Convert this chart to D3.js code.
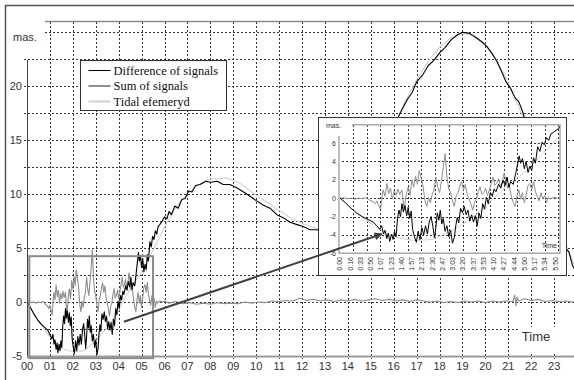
<!DOCTYPE html>
<html>
<head>
<meta charset="utf-8">
<script src="https://cdn.jsdelivr.net/npm/d3@7"></script>
<style>
  body { margin: 0; background: #fff; }
  svg { display: block; font-family: "Liberation Sans", Arial, sans-serif; }
</style>
</head>
<body>
<script>
var width = 574;
var height = 380;

// series names / colours (legend order)
var seriesNames = ['Difference of signals', 'Sum of signals', 'Tidal efemeryd'];
var seriesColors = ['#000000', '#8e8e8e', '#d0d0d0'];

// tick labels
var hourLabels = ['00','01','02','03','04','05','06','07','08','09','10','11',
                  '12','13','14','15','16','17','18','19','20','21','22','23'];
var yTickValues = [-5, 0, 5, 10, 15, 20];
var insetYTicks = [-6, -4, -2, 0, 2, 4, 6];
var insetTimeLabels = ['0:00','0:16','0:33','0:50','1:07','1:23','1:40','1:57','2:13','2:30','2:47',
                       '3:03','3:20','3:37','3:53','4:10','4:27','4:44','5:00','5:17','5:34','5:50'];

// [hour, mas]
var diffSeries = [
  [0,0],[0.15,-0.5],[0.3,-1.1],[0.45,-1.6],[0.6,-2.0],[0.75,-2.3],[0.9,-2.6],[1.0,-3.0],
  [1.08,-3.4],[1.13,-3.0],[1.18,-3.9],[1.22,-3.5],[1.27,-4.4],[1.31,-3.8],[1.35,-4.7],[1.4,-3.9],
  [1.44,-4.5],[1.48,-3.6],[1.52,-4.2],[1.56,-2.2],[1.6,-1.3],[1.64,-2.0],[1.68,-0.6],[1.72,-1.5],
  [1.76,-0.8],[1.81,-1.9],[1.85,-1.0],[1.89,-2.2],[1.93,-1.4],[1.97,-3.4],[2.02,-4.2],[2.07,-4.8],
  [2.12,-3.6],[2.17,-4.5],[2.22,-3.2],[2.27,-4.0],[2.32,-3.0],[2.37,-3.9],[2.42,-2.6],[2.47,-2.0],
  [2.52,-3.1],[2.56,-4.3],[2.6,-3.2],[2.64,-1.6],[2.68,-2.4],[2.72,-1.3],[2.76,-2.8],[2.8,-2.2],
  [2.85,-3.6],[2.9,-3.0],[2.95,-4.2],[3.0,-3.5],[3.05,-4.9],[3.1,-4.3],[3.14,-3.0],[3.18,-2.1],
  [3.22,-2.7],[3.27,-1.1],[3.32,-1.6],[3.37,-0.9],[3.42,-1.8],[3.47,-1.3],[3.52,-2.5],[3.57,-1.8],
  [3.62,-2.6],[3.67,-1.9],[3.72,-3.0],[3.77,-1.6],[3.82,-2.2],[3.87,-0.6],[3.92,-1.2],[3.97,0.1],
  [4.02,-0.6],[4.08,0.6],[4.13,0.2],[4.18,1.0],[4.23,0.7],[4.3,1.5],[4.36,1.1],[4.42,1.9],
  [4.48,1.4],[4.53,2.3],[4.58,1.2],[4.63,1.8],[4.7,1.5],[4.76,2.6],[4.81,3.6],[4.86,4.6],
  [4.9,3.8],[4.95,4.3],[5.0,3.2],[5.05,4.0],[5.1,2.8],[5.15,3.5],[5.2,3.0],[5.25,4.4],
  [5.3,3.8],[5.36,5.6],[5.42,5.1],[5.48,6.1],[5.54,5.8],[5.6,6.6],[5.66,6.3],[5.72,7.0],
  [5.8,7.2],[5.9,7.5],[6.0,7.9],[6.1,7.7],[6.2,8.4],[6.3,8.1],[6.45,8.9],[6.6,8.7],[6.75,9.5],
  [6.9,9.6],[7.05,10.3],[7.2,10.2],[7.35,10.8],[7.55,10.9],[7.8,11.2],[8.0,11.1],[8.3,11.2],
  [8.56,10.9],[8.85,10.9],[9.15,10.6],[9.45,10.2],[9.73,9.8],[10.0,9.4],[10.3,9.0],[10.6,8.7],
  [10.9,8.1],[11.2,7.8],[11.47,7.4],[11.75,7.2],[12.05,7.0],[12.35,6.7],[12.64,6.7],[13.0,6.5],
  [13.5,6.7],[14.0,7.6],[14.5,9.2],[15.0,11.3],[15.5,13.7],[16.0,16.2],[16.3,17.6],[16.6,18.8],
  [16.8,19.4],[17.0,20.4],[17.25,21.0],[17.5,21.9],[17.75,22.4],[18.0,23.1],[18.25,23.6],
  [18.5,24.3],[18.8,24.8],[19.0,25.0],[19.3,24.9],[19.6,24.5],[19.85,24.1],[20.06,23.7],
  [20.3,23.0],[20.5,22.3],[20.7,21.4],[20.9,20.4],[21.1,19.8],[21.3,18.9],[21.45,18.6],
  [21.6,17.8],[22.0,15.0],[22.5,11.5],[23.0,8.2],[23.5,5.0],[23.65,4.6],[23.8,3.4],[24.0,2.6]
];

var sumSeries = [
  [0,0],[0.1,0.05],[0.2,-0.05],[0.3,0],[0.4,-0.1],[0.5,0],[0.6,-0.05],[0.7,0.05],[0.8,-0.2],
  [0.9,-0.4],[0.95,-0.6],[1.0,-0.3],[1.05,-0.8],[1.1,-1.2],[1.13,-0.2],[1.17,0.9],[1.22,0.2],
  [1.27,1.6],[1.32,0.5],[1.37,1.1],[1.42,-0.1],[1.47,0.8],[1.52,0.3],[1.57,1.0],[1.62,0.4],
  [1.68,0.9],[1.74,-1.3],[1.8,0.5],[1.85,1.2],[1.9,0.3],[1.95,2.0],[2.0,1.2],[2.05,2.4],
  [2.1,1.5],[2.15,3.0],[2.2,2.2],[2.25,1.4],[2.3,-0.2],[2.35,-0.9],[2.4,0.1],[2.45,-0.5],
  [2.5,0.4],[2.55,0.9],[2.6,2.3],[2.65,1.2],[2.7,0.6],[2.75,1.9],[2.8,3.3],[2.85,4.85],
  [2.9,2.3],[2.95,1.0],[3.0,0.6],[3.05,-0.3],[3.1,-0.9],[3.15,0.2],[3.2,0.6],[3.25,1.3],
  [3.3,1.8],[3.35,0.9],[3.4,1.5],[3.45,0.4],[3.5,-0.1],[3.55,-0.6],[3.6,-1.3],[3.65,-0.4],
  [3.7,-0.1],[3.75,0.7],[3.8,1.25],[3.85,0.4],[3.9,0.6],[3.95,1.1],[4.0,0.3],[4.05,0.9],
  [4.1,1.6],[4.15,2.3],[4.2,1.4],[4.25,1.6],[4.3,2.1],[4.35,1.2],[4.4,1.8],[4.45,2.7],
  [4.5,1.9],[4.55,1.1],[4.6,1.25],[4.65,0.2],[4.7,-0.5],[4.75,-0.9],[4.8,0.2],[4.85,0.9],
  [4.9,-0.1],[4.95,0.6],[5.0,-0.5],[5.05,0.4],[5.1,1.4],[5.15,1.6],[5.2,0.9],[5.25,1.8],
  [5.3,0.7],[5.35,0.2],[5.4,-0.3],[5.45,0.6],[5.5,-0.1],[5.55,0.3],[5.6,-0.5],[5.65,0.1],
  [5.7,-0.1],[5.8,0.1],[5.9,0],[6.0,0.1],[6.2,-0.1],[6.5,0.05],[6.8,-0.15],[7.1,-0.05],
  [7.4,-0.2],[7.7,-0.1],[8.0,-0.2],[8.3,-0.05],[8.6,-0.15],[8.9,-0.1],[9.2,-0.15],[9.5,0],
  [9.8,-0.1],[10.1,0],[10.4,-0.05],[10.7,0.1],[11.0,0.05],[11.3,0.15],[11.6,0.1],[11.9,0.35],
  [12.2,0.15],[12.5,0.25],[12.8,0.1],[13.1,0.2],[13.4,0.05],[13.7,0.2],[14.0,0.1],[14.3,0.25],
  [14.6,0.1],[14.9,0.2],[15.2,0.3],[15.5,0.15],[15.8,0.25],[16.1,0.1],[16.4,0.2],[16.7,0.05],
  [17.0,0.2],[17.3,0.1],[17.6,0],[17.9,0.1],[18.2,-0.05],[18.5,0.05],[18.8,-0.05],[19.1,0.1],
  [19.4,0],[19.7,0.1],[20.0,-0.05],[20.3,0.1],[20.6,0],[20.9,0.1],[21.2,0.05],[21.28,0.65],
  [21.33,-0.35],[21.38,0.45],[21.45,0.1],[21.7,0.3],[22.0,0.15],[22.3,0.25],[22.6,0.05],
  [22.9,0.15],[23.2,0.05],[23.5,0.1],[23.8,0],[24.0,0.05]
];

var tidalSeries = [
  [0,0],[0.5,-1.8],[1,-3.2],[1.5,-4.3],[2,-4.6],[2.5,-4.5],[3,-3.6],[3.5,-2.4],[4,-0.8],
  [4.17,0],[4.5,1.2],[5,2.8],[5.5,4.8],[5.92,6.6],[6.5,8.8],[7,10.0],[7.5,10.9],[8,11.4],
  [8.7,11.5],[9.3,11.0],[10,9.9],[10.5,9.2],[11,8.5],[11.5,7.8],[12,7.3],[12.5,6.9],[13,6.7],
  [13.5,6.9],[14,7.8],[14.5,9.4],[15,11.5],[15.5,13.9],[16,16.3],[16.5,18.6],[17,20.6],
  [17.5,22.3],[18,23.6],[18.5,24.5],[19,24.9],[19.5,24.7],[20,23.9],[20.5,22.4],[21,20.3],
  [21.5,17.9],[22,15.1],[22.5,11.9],[23,8.7],[23.5,5.4],[24,2.8]
];

var allSeries = [diffSeries, sumSeries, tidalSeries];

var svg = d3.select('body').append('svg')
  .attr('width', width)
  .attr('height', height);

svg.append('rect').attr('width', width).attr('height', height).attr('fill', '#fff');

// ---------- main chart ----------
var x = d3.scaleLinear().domain([0, 24]).range([27, 27 + 24 * 22.92]);
var y = d3.scaleLinear().domain([-5, 25]).range([356, 32.3]);

// outer frame
svg.append('path')
  .attr('d', 'M5.5,' + height + 'V5.5H' + width)
  .attr('fill', 'none')
  .attr('stroke', '#555')
  .attr('stroke-width', 1.5);

// top border of plot
svg.append('line')
  .attr('x1', 45).attr('x2', width)
  .attr('y1', 21.5).attr('y2', 21.5)
  .attr('stroke', '#8a8a8a').attr('stroke-width', 1.5);

// horizontal grid
var gridVals = d3.range(-2.5, 25.1, 2.5);
svg.append('g').selectAll('line')
  .data(gridVals)
  .enter().append('line')
  .attr('x1', (d) => d >= 25 ? 45 : 24)
  .attr('x2', width)
  .attr('y1', (d) => Math.round(y(d)) + 0.5)
  .attr('y2', (d) => Math.round(y(d)) + 0.5)
  .attr('stroke', '#333')
  .attr('stroke-dasharray', '2,2');

// vertical grid
svg.append('g').selectAll('line')
  .data(d3.range(1, 25))
  .enter().append('line')
  .attr('x1', (d) => Math.round(x(d)) + 0.5)
  .attr('x2', (d) => Math.round(x(d)) + 0.5)
  .attr('y1', 22)
  .attr('y2', 359)
  .attr('stroke', '#333')
  .attr('stroke-dasharray', '2,2');

// y axis line
svg.append('line')
  .attr('x1', 27.5).attr('x2', 27.5)
  .attr('y1', 60).attr('y2', 358)
  .attr('stroke', '#444').attr('stroke-width', 1);

// y tick labels
svg.append('g').selectAll('text')
  .data(yTickValues)
  .enter().append('text')
  .attr('x', 22)
  .attr('y', (d) => y(d))
  .attr('dy', '0.35em')
  .attr('text-anchor', 'end')
  .attr('font-size', 11)
  .attr('fill', '#333')
  .text((d) => d);

svg.append('text')
  .attr('x', 13).attr('y', 41)
  .attr('font-size', 11)
  .attr('fill', '#333')
  .text('mas.');

// data lines
svg.append('clipPath').attr('id', 'mainclip')
  .append('rect').attr('x', 27).attr('y', 22).attr('width', width - 27).attr('height', 336);

var line = d3.line().x((d) => x(d[0])).y((d) => y(d[1]));
var linesG = svg.append('g').attr('clip-path', 'url(#mainclip)');
[2, 1, 0].forEach(function(i) {
  linesG.append('path')
    .datum(allSeries[i])
    .attr('d', line)
    .attr('fill', 'none')
    .attr('stroke', seriesColors[i])
    .attr('stroke-width', i === 0 ? 1.1 : 1.1)
    .attr('stroke-linejoin', 'round');
});

// x axis
svg.append('line')
  .attr('x1', 27).attr('x2', width)
  .attr('y1', 356.5).attr('y2', 356.5)
  .attr('stroke', '#999').attr('stroke-width', 2);

svg.append('g').selectAll('text')
  .data(hourLabels)
  .enter().append('text')
  .attr('x', (d, i) => x(i))
  .attr('y', 370)
  .attr('text-anchor', 'middle')
  .attr('font-size', 11)
  .attr('fill', '#333')
  .text((d) => d);

// "Time" label with white background
svg.append('rect')
  .attr('x', 518).attr('y', 327).attr('width', width - 518).attr('height', 25)
  .attr('fill', '#fff');
svg.append('text')
  .attr('x', 536).attr('y', 341)
  .attr('text-anchor', 'middle')
  .attr('font-size', 13)
  .attr('fill', '#333')
  .text('Time');

// zoom box
var zoomHours = [0.1, 5.5];
var zoomMas = [-5.2, 4.25];
svg.append('rect')
  .attr('x', x(zoomHours[0]))
  .attr('y', y(zoomMas[1]))
  .attr('width', x(zoomHours[1]) - x(zoomHours[0]))
  .attr('height', y(zoomMas[0]) - y(zoomMas[1]))
  .attr('fill', 'none')
  .attr('stroke', '#8a8a8a')
  .attr('stroke-width', 2);

// legend
var legend = svg.append('g').attr('transform', 'translate(80.5, 60.5)');
legend.append('rect')
  .attr('width', 146).attr('height', 50)
  .attr('fill', '#fff').attr('stroke', '#333');
seriesNames.forEach(function(name, i) {
  var ly = 10 + i * 15.5;
  legend.append('line')
    .attr('x1', 8).attr('x2', 30)
    .attr('y1', ly).attr('y2', ly)
    .attr('stroke', seriesColors[i])
    .attr('stroke-width', i === 0 ? 1 : 2);
  legend.append('text')
    .attr('x', 33).attr('y', ly)
    .attr('dy', '0.35em')
    .attr('font-family', '"Liberation Serif", "Times New Roman", serif')
    .attr('font-size', 12.5)
    .attr('fill', '#111')
    .text(name);
});

// ---------- inset ----------
var ix = d3.scaleLinear().domain([0, 358]).range([340, 560]);
var iy = d3.scaleLinear().domain([-6, 8]).range([253.3, 124.7]);

var inset = svg.append('g');
inset.append('rect')
  .attr('x', 318.5).attr('y', 117.5).attr('width', 248).attr('height', 158)
  .attr('fill', '#fff').attr('stroke', '#333');

inset.append('g').selectAll('line')
  .data(insetYTicks.slice(1))
  .enter().append('line')
  .attr('x1', 342).attr('x2', 560)
  .attr('y1', (d) => Math.round(iy(d)) + 0.5)
  .attr('y2', (d) => Math.round(iy(d)) + 0.5)
  .attr('stroke', '#333')
  .attr('stroke-dasharray', '2,2');

inset.append('g').selectAll('line')
  .data(d3.range(21, 356, 22.3))
  .enter().append('line')
  .attr('x1', (d) => Math.round(ix(d)) + 0.5)
  .attr('x2', (d) => Math.round(ix(d)) + 0.5)
  .attr('y1', 125).attr('y2', 254)
  .attr('stroke', '#333')
  .attr('stroke-dasharray', '2,2');

// plot frame
inset.append('path')
  .attr('d', 'M352,124.7H560V253.3H339V136')
  .attr('fill', 'none')
  .attr('stroke', '#aaa')
  .attr('stroke-width', 1.5);

inset.append('clipPath').attr('id', 'insetclip')
  .append('rect').attr('x', 339).attr('y', 124.7).attr('width', 221).attr('height', 128.6);

var iline = d3.line().x((d) => ix(d[0] * 60)).y((d) => iy(d[1]));
var insetLines = inset.append('g').attr('clip-path', 'url(#insetclip)');
[2, 1, 0].forEach(function(i) {
  insetLines.append('path')
    .datum(allSeries[i].filter((d) => d[0] <= 6.05))
    .attr('d', iline)
    .attr('fill', 'none')
    .attr('stroke', seriesColors[i])
    .attr('stroke-width', 1)
    .attr('stroke-linejoin', 'round');
});

inset.append('g').selectAll('text')
  .data(insetYTicks)
  .enter().append('text')
  .attr('x', 336)
  .attr('y', (d) => iy(d))
  .attr('dy', '0.35em')
  .attr('text-anchor', 'end')
  .attr('font-size', 7)
  .attr('fill', '#333')
  .text((d) => d);

inset.append('g').selectAll('text')
  .data(insetTimeLabels)
  .enter().append('text')
  .attr('transform', (d, i) => 'translate(' + ix(i * 350 / 21) + ',257) rotate(-90)')
  .attr('dy', '0.35em')
  .attr('text-anchor', 'end')
  .attr('font-size', 7)
  .attr('fill', '#333')
  .text((d) => d);

inset.append('text')
  .attr('x', 326).attr('y', 128)
  .attr('font-size', 7)
  .attr('fill', '#333')
  .text('mas.');

inset.append('text')
  .attr('x', 557).attr('y', 248)
  .attr('text-anchor', 'end')
  .attr('font-size', 7)
  .attr('fill', '#333')
  .text('Time');

// arrow from zoom box to inset
var defs = svg.append('defs');
defs.append('marker')
  .attr('id', 'head')
  .attr('viewBox', '0 0 10 10')
  .attr('refX', 9).attr('refY', 5)
  .attr('markerWidth', 5).attr('markerHeight', 4)
  .attr('orient', 'auto')
  .append('path').attr('d', 'M0,0L10,5L0,10z').attr('fill', '#404040');

svg.append('line')
  .attr('x1', x(4.23)).attr('y1', y(-1.83))
  .attr('x2', ix(68)).attr('y2', iy(-3.9))
  .attr('stroke', '#404040')
  .attr('stroke-width', 2)
  .attr('marker-end', 'url(#head)');
</script>
</body>
</html>
